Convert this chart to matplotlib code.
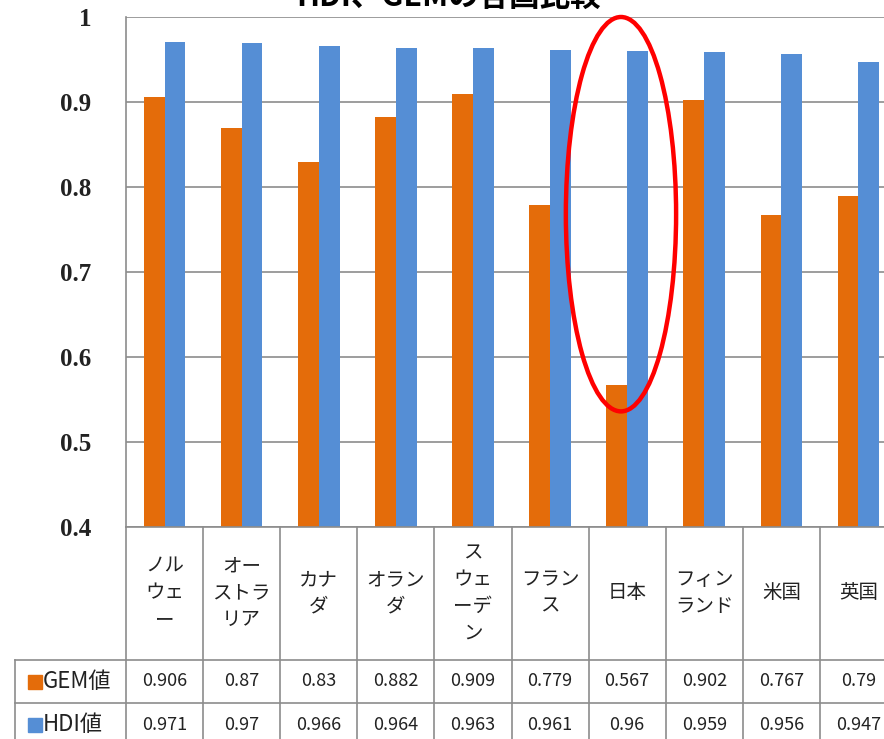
import matplotlib.pyplot as plt
from matplotlib.patches import Ellipse, Rectangle

plt.rcParams['font.family'] = ['Noto Sans CJK JP', 'DejaVu Sans']

# データ
countries = ['ノルウェー', 'オーストラリア', 'カナダ', 'オランダ', 'スウェーデン',
             'フランス', '日本', 'フィンランド', '米国', '英国']
# 表の見出し（折り返し）
country_labels = ['ノル\nウェ\nー', 'オー\nストラ\nリア', 'カナ\nダ', 'オラン\nダ',
                  'ス\nウェ\nーデ\nン', 'フラン\nス', '日本', 'フィン\nランド', '米国', '英国']
gem = [0.906, 0.87, 0.83, 0.882, 0.909, 0.779, 0.567, 0.902, 0.767, 0.79]
hdi = [0.971, 0.97, 0.966, 0.964, 0.963, 0.961, 0.96, 0.959, 0.956, 0.947]
gem_text = ['0.906', '0.87', '0.83', '0.882', '0.909', '0.779', '0.567', '0.902', '0.767', '0.79']
hdi_text = ['0.971', '0.97', '0.966', '0.964', '0.963', '0.961', '0.96', '0.959', '0.956', '0.947']
yticks = [0.4, 0.5, 0.6, 0.7, 0.8, 0.9, 1.0]
ytick_labels = ['0.4', '0.5', '0.6', '0.7', '0.8', '0.9', '1']

orange = '#E46C0A'
blue = '#558ED5'
line_gray = '#8C8C8C'

W, H = 884, 739
fig = plt.figure(figsize=(W / 100, H / 100), dpi=100)

# グラフ部分（右端は画像の外まではみ出す）
ax = fig.add_axes([126 / W, 1 - 527 / H, 771 / W, 510 / H])
x = list(range(len(countries)))
ax.bar([i - 0.135 for i in x], gem, width=0.27, color=orange, zorder=3)
ax.bar([i + 0.135 for i in x], hdi, width=0.27, color=blue, zorder=3)
ax.set_xlim(-0.5, len(countries) - 0.5)
ax.set_ylim(0.4, 1.0)
ax.set_yticks(yticks)
ax.set_yticklabels(ytick_labels, family='Liberation Serif', fontweight='bold', fontsize=18,
                   color='#222222')
ax.tick_params(axis='y', length=0, pad=25)
ax.set_xticks([])
ax.yaxis.grid(True, color=line_gray, linewidth=1.2, zorder=0)
for s in ['top', 'right', 'bottom']:
    ax.spines[s].set_visible(False)
ax.spines['left'].set_color(line_gray)
ax.spines['left'].set_linewidth(1.2)

# タイトル（上が切れている）
fig.text(449 / W, 1 + 3 / H, 'HDI、GEMの各国比較', ha='center', va='center',
         fontsize=22, fontweight='bold')

# 日本を囲む赤い楕円
ax.add_patch(Ellipse((5.92, 0.768), 1.43, 0.464, fill=False, edgecolor='#FF0000',
                     linewidth=3.2, clip_on=False, zorder=5))

# データテーブル
tab = fig.add_axes([126 / W, 1 - 746 / H, 771 / W, 219 / H])
tab.set_xlim(-0.5, len(countries) - 0.5)
tab.set_ylim(219, 0)
tab.axis('off')
left_edge = -0.5 - 111 / 77.1
for i in range(len(countries) + 1):
    tab.plot([i - 0.5, i - 0.5], [0, 219], color=line_gray, linewidth=1.2, clip_on=False)
tab.plot([left_edge, left_edge], [133, 219], color=line_gray, linewidth=1.2, clip_on=False)
for yy in [133, 176, 219]:
    tab.plot([left_edge, len(countries) - 0.5], [yy, yy], color=line_gray, linewidth=1.2,
             clip_on=False)
tab.plot([-0.5, len(countries) - 0.5], [0, 0], color=line_gray, linewidth=1.2, clip_on=False)

for i in x:
    tab.text(i, 66, country_labels[i], ha='center', va='center', fontsize=14,
             linespacing=1.35, color='#222222')
    tab.text(i, 154.5, gem_text[i], ha='center', va='center', fontsize=13, color='#222222')
    tab.text(i, 197.5, hdi_text[i], ha='center', va='center', fontsize=13, color='#222222')

# 凡例
sq = 14 / 77.1
for yy, col, name in [(154.5, orange, 'GEM値'), (197.5, blue, 'HDI値')]:
    tab.add_patch(Rectangle((left_edge + 13 / 77.1, yy - 7), sq, 14, color=col, clip_on=False))
    tab.text(left_edge + 28 / 77.1, yy, name, ha='left', va='center', fontsize=16,
             color='#222222')

fig.savefig('out.png', dpi=100)
